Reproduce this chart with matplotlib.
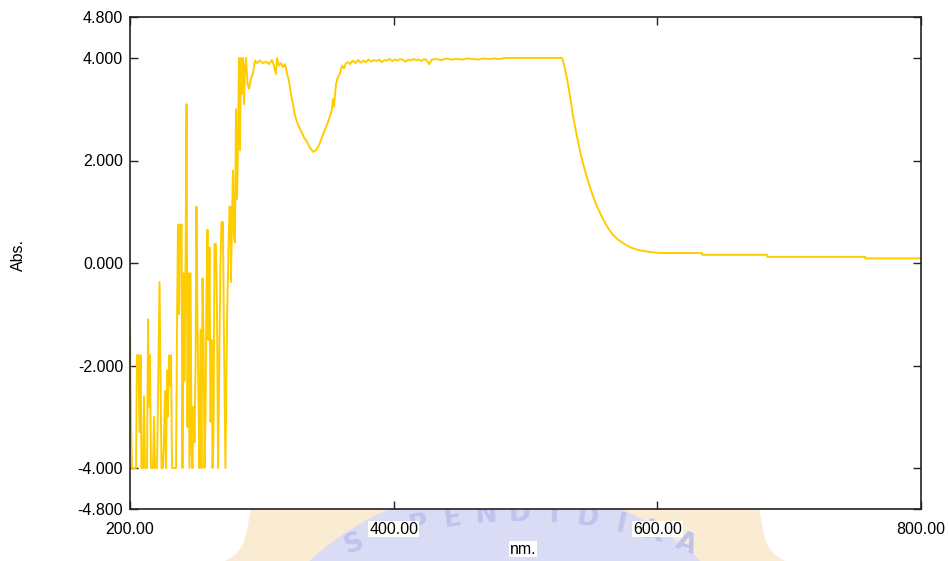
import numpy as np
import matplotlib
matplotlib.use("Agg")
import matplotlib.pyplot as plt
from matplotlib.patches import Circle, Polygon

plt.rcParams.update({
    'font.family': ['Liberation Sans', 'DejaVu Sans'],
    'font.size': 11.5,
})

# absorbance spectrum, wavelength in nm
# noisy saturated UV part (detector floor at -4, ceiling at 4)
nm_uv = [200.0, 200.8, 201.5, 204.6, 205.3, 206.4, 207.2, 208.0, 208.7, 209.9,
         210.6, 211.4, 212.9, 213.7, 214.4, 215.2, 215.9, 217.4, 218.2, 219.0,
         220.5, 222.4, 223.1, 223.9, 225.0, 225.8, 226.5, 227.3, 228.1, 228.8,
         229.6, 230.3, 231.1, 231.9, 234.9, 235.7, 236.4, 237.2, 237.9, 238.5,
         239.1, 239.8, 240.6, 241.3, 242.1, 242.9, 243.6, 244.4, 245.1, 245.9,
         246.7, 247.4, 248.2, 248.9, 249.7, 250.4, 251.2, 252.0, 252.7, 253.5,
         254.2, 255.0, 255.8, 256.5, 257.3, 258.0, 258.8, 259.5, 260.3, 261.1,
         261.8, 262.6, 263.3, 264.1, 265.2, 266.0, 266.8, 267.5, 268.6, 269.4,
         270.5, 271.3, 272.4, 273.6, 274.7, 275.5, 276.2, 276.6, 277.4, 278.1,
         278.9, 279.6, 280.4, 281.2, 281.9, 282.7, 283.4, 284.2, 285.0, 285.7,
         286.5, 287.2, 288.0, 289.1]
abs_uv = [-1.30, -3.20, -4.00, -4.00, -1.80, -1.80, -3.30, -1.80, -4.00, -4.00,
          -2.60, -4.00, -4.00, -1.10, -2.80, -1.80, -4.00, -4.00, -3.00, -4.00,
          -4.00, -0.37, -2.20, -4.00, -4.00, -3.40, -2.50, -4.00, -2.10, -3.00,
          -1.80, -2.40, -1.80, -4.00, -4.00, -1.10, 0.75, -1.00, 0.75, 0.60,
          0.75, -4.00, -0.20, -2.30, -0.10, 3.10, -3.20, -0.20, -4.00, -0.20,
          -3.70, -4.00, -2.80, -3.50, -2.00, 1.10, -1.20, -2.80, -4.00, -1.30,
          -4.00, -0.30, -1.50, -4.00, -3.00, -0.60, 0.65, -1.50, 0.30, -3.10,
          -1.50, -4.00, -3.50, 0.37, 0.37, -1.00, -4.00, -2.50, 0.00, 0.80,
          0.80, -1.50, -4.00, -1.10, 0.27, 1.10, 1.10, -0.37, 0.90, 1.80,
          0.50, 0.40, 3.00, 1.25, 2.30, 4.00, 2.20, 4.00, 3.30, 4.00,
          3.10, 3.80, 4.00, 3.50]

# shoulder and dip around 340 nm
nm_mid = [290.3, 291.8, 293.3, 294.8, 296.3, 298.6, 300.9, 303.2, 305.4, 307.7,
          309.2, 310.7, 311.5, 313.0, 314.5, 316.1, 317.6, 319.1, 320.6, 322.1,
          323.6, 325.2, 327.4, 329.7, 332.0, 334.3, 336.5, 338.8, 341.1, 343.4,
          345.6, 347.9, 350.2, 351.7, 353.2, 354.0, 354.7, 356.3, 357.8, 359.3,
          360.8, 362.3, 363.8, 365.4, 366.9]
abs_mid = [3.40, 3.60, 3.70, 3.95, 3.90, 3.95, 3.90, 3.93, 3.88, 3.96,
           3.85, 3.69, 4.00, 3.85, 3.90, 3.82, 3.88, 3.70, 3.55, 3.30,
           3.10, 2.87, 2.70, 2.58, 2.45, 2.36, 2.25, 2.17, 2.20, 2.30,
           2.45, 2.60, 2.75, 2.87, 3.00, 3.20, 3.05, 3.50, 3.63, 3.70,
           3.85, 3.80, 3.90, 3.92, 3.88]

# plateau
nm_top = [369, 371, 373, 375, 377, 379, 381, 383, 385, 387, 389, 391, 393, 395,
          397, 399, 401, 403, 405, 407, 409, 411, 413, 415, 417, 419, 421, 423,
          425, 427, 429, 432, 436, 440, 444, 448, 452, 456, 460, 464, 468, 472,
          476, 480, 484, 490, 500, 510, 520, 527.5]
abs_top = [3.95, 3.90, 3.96, 3.91, 3.95, 3.92, 3.97, 3.93, 3.96, 3.94, 3.97, 3.92,
           3.96, 3.95, 3.98, 3.94, 3.97, 3.95, 3.98, 3.96, 3.93, 3.97, 3.95, 3.98,
           3.96, 3.97, 3.94, 3.98, 3.96, 3.88, 3.97, 3.98, 3.96, 3.99, 3.97, 3.98,
           3.97, 3.99, 3.98, 3.97, 3.99, 3.98, 3.99, 3.98, 4.00, 4.00, 4.00, 4.00,
           4.00, 4.00]

# absorption edge and visible tail
nm_vis = [528.5, 530.0, 531.6, 533.8, 536.0, 539.0, 542.0, 545.0, 548.0, 551.0,
          554.0, 557.0, 560.0, 563.0, 566.0, 570.0, 575.0, 580.0, 586.0, 593.0,
          600.0, 607.4, 633.9, 634.0, 683.2, 683.3, 757.6, 757.7, 800.0]
abs_vis = [3.94, 3.78, 3.58, 3.25, 2.88, 2.47, 2.11, 1.81, 1.55, 1.32,
           1.12, 0.95, 0.80, 0.67, 0.56, 0.46, 0.37, 0.30, 0.25, 0.22,
           0.20, 0.195, 0.195, 0.16, 0.16, 0.12, 0.12, 0.09, 0.09]

wavelength = np.array(nm_uv + nm_mid + nm_top + nm_vis)
absorbance = np.array(abs_uv + abs_mid + abs_top + abs_vis)

x_ticks = [200, 400, 600, 800]
y_ticks = [-4.8, -4.0, -2.0, 0.0, 2.0, 4.0, 4.8]

W, H = 949, 561
fig = plt.figure(figsize=(W / 100, H / 100), dpi=100)

# faint institutional badge behind the bottom of the page
cx, cy = 505, 775
theta = np.linspace(0, 2 * np.pi, 400)
r_out = 362 + 14 * np.cos(18 * theta)
ring = np.column_stack([(cx + r_out * np.sin(theta)) / 100,
                        (H - cy + r_out * np.cos(theta)) / 100])
fig.add_artist(Polygon(ring, closed=True, facecolor='#faebd3', edgecolor='none',
                       transform=fig.dpi_scale_trans, zorder=-3))
fig.add_artist(Circle((cx / 100, (H - cy) / 100), 2.9, facecolor='#dadcf6',
                      edgecolor='none', transform=fig.dpi_scale_trans, zorder=-2))

# arched lettering on the badge (flat arc, only the upper letters fall on the page)
motto = "UNIVERSITAS PENDIDIKAN GANESHA"
tx, ty, tr = 520, 988, 474
for i, ch in enumerate(motto):
    ang = np.radians((i - 15) * 4.1)
    x = tx + tr * np.sin(ang)
    y = ty - tr * np.cos(ang)
    if ch == ' ' or y > 548:
        continue
    fig.text(x / W, 1 - y / H, ch, fontsize=19, fontweight='bold',
             family='DejaVu Sans', color='#bfc3ed', ha='center', va='center',
             rotation=-np.degrees(ang), zorder=-1)

ax = fig.add_axes([130 / W, (H - 509) / H, 791 / W, 492 / H])
ax.plot(wavelength, absorbance, color='#ffcc00', lw=1.4)

ax.set_xlim(200, 800)
ax.set_ylim(-4.8, 4.8)
ax.set_xticks(x_ticks)
ax.set_xticklabels([f'{v:.2f}' for v in x_ticks])
ax.set_yticks(y_ticks)
ax.set_yticklabels([f'{v:.3f}' for v in y_ticks])
ax.tick_params(direction='in', length=6, width=1.0, top=True, right=True,
               color='#222222', labelsize=11.5)
ax.tick_params(axis='x', pad=9)
ax.tick_params(axis='y', pad=5)
for s in ax.spines.values():
    s.set_linewidth(1.2)
    s.set_color('#222222')
for tl in ax.get_xticklabels():
    tl.set_bbox(dict(facecolor='white', edgecolor='none', pad=0.6))

fig.text(18 / W, 1 - 255 / H, 'Abs.', rotation=90, ha='center', va='center',
         fontsize=11.5)
fig.text(523 / W, 1 - 549 / H, 'nm.', ha='center', va='center', fontsize=11.5,
         bbox=dict(facecolor='white', edgecolor='none', pad=0.6))

fig.savefig('out.png', dpi=100)
